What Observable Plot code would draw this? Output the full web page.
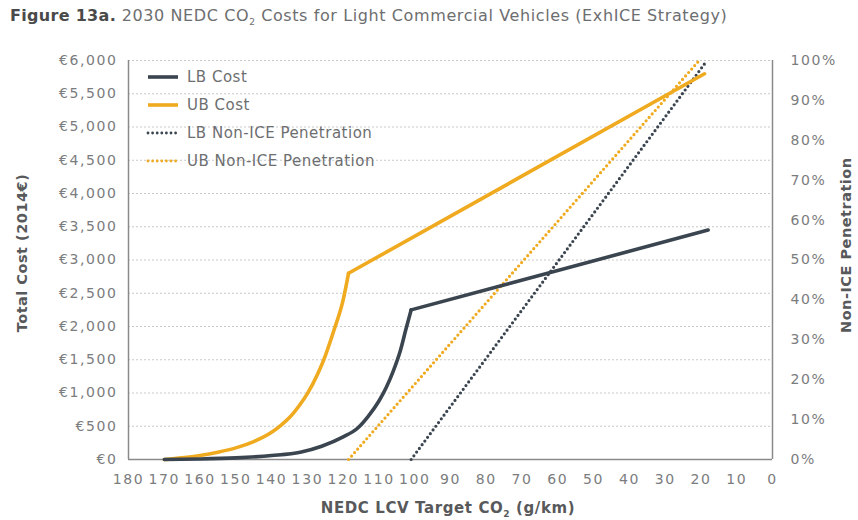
<!DOCTYPE html>
<html>
<head>
<meta charset="utf-8">
<script src="https://cdn.jsdelivr.net/npm/d3@7"></script>
<script src="https://cdn.jsdelivr.net/npm/@observablehq/plot@0.6"></script>
<style>
  body { margin: 0; background: #fff; font-family: "DejaVu Sans", sans-serif; }
  #wrap { position: relative; width: 858px; height: 520px; overflow: hidden; }
  #title { position: absolute; left: 10px; top: 6px; font-size: 16px; letter-spacing: 0.6px; color: #6d6e70; white-space: nowrap; }
  #title b { color: #4a4a4a; letter-spacing: 0.3px; }
  #chart { position: absolute; left: 0; top: 36px; }
  .ylab { position: absolute; font-weight: bold; font-size: 14.5px; letter-spacing: 0.5px; color: #58595b; white-space: nowrap; transform: rotate(-90deg); transform-origin: center; text-align: center; }
  #xlab { position: absolute; left: 0; width: 896px; top: 499px; text-align: center; font-weight: bold; font-size: 15px; letter-spacing: 0.6px; color: #58595b; }
  #legend { position: absolute; left: 146px; top: 63px; font-size: 15px; color: #6d6e70; letter-spacing: 0.5px; }
  .row { display: flex; align-items: center; height: 28px; }
  .row svg { margin-right: 7px; }
</style>
</head>
<body>
<div id="wrap">
  <div id="title"><b>Figure 13a.</b> 2030 NEDC CO<sub style="font-size:9px">2</sub> Costs for Light Commercial Vehicles (ExhICE Strategy)</div>
  <div id="chart"></div>
  <div class="ylab" style="left:-58px; top:245px; width:160px;">Total Cost (2014€)</div>
  <div class="ylab" style="left:766px; top:245px; width:160px;">Non-ICE Penetration</div>
  <div id="xlab">NEDC LCV Target CO<sub style="font-size:9px">2</sub> (g/km)</div>
  <div id="legend"></div>
</div>
<script>
// ---- data ----
const xTicks = [180,170,160,150,140,130,120,110,100,90,80,70,60,50,40,30,20,10,0];
const costTicks = [0,500,1000,1500,2000,2500,3000,3500,4000,4500,5000,5500,6000];
const pctTicks = [0,10,20,30,40,50,60,70,80,90,100];

const lbCostCO2 = [170,160,150,140,132,126,120,116,113,110,108,106,104,102.5,101,18];
const lbCostVal = [0,8,25,60,110,200,340,470,650,880,1080,1330,1640,1950,2250,3450];
const lbKnee = 101;

const ubCostCO2 = [170,165,160,155,150,145,140,137.5,135,132,130,127,125,122.6,120,118.5,19];
const ubCostVal = [0,25,60,110,175,270,410,510,630,830,990,1300,1560,1940,2400,2800,5800];
const ubKnee = 118.5;

const lbPenCO2 = [101,18.3];
const lbPenPct = [0,100];
const ubPenCO2 = [118.5,20.5];
const ubPenPct = [0,100];

const series = [
  {name:"LB Cost", color:"#3b4550", dotted:false},
  {name:"UB Cost", color:"#efaa1f", dotted:false},
  {name:"LB Non-ICE Penetration", color:"#3b4550", dotted:true},
  {name:"UB Non-ICE Penetration", color:"#efaa1f", dotted:true}
];

// ---- build tables ----
const lbCost = lbCostCO2.map((x,i)=>({x, y: lbCostVal[i]}));
const ubCost = ubCostCO2.map((x,i)=>({x, y: ubCostVal[i]}));
const pctToCost = 6000/100;
const lbPen = lbPenCO2.map((x,i)=>({x, y: lbPenPct[i]*pctToCost}));
const ubPen = ubPenCO2.map((x,i)=>({x, y: ubPenPct[i]*pctToCost}));

const axisColor = "#8a8a8a";
const solidW = 3.6;
const dotStyle = {strokeWidth: 3.2, strokeDasharray: "0,4.6", strokeLinecap: "round"};

const chart = Plot.plot({
  width: 858, height: 484,
  marginTop: 24, marginBottom: 61, marginLeft: 128, marginRight: 86,
  style: {fontFamily: "DejaVu Sans, sans-serif", fontSize: "14px", color: "#7b7c7e", letterSpacing: "1.6px", background: "transparent"},
  x: {domain: [180, 0]},
  y: {domain: [0, 6000]},
  marks: [
    Plot.gridY(costTicks.slice(1), {stroke: "#c8c8c8", strokeOpacity: 1, strokeDasharray: "2,2"}),
    Plot.axisY(costTicks, {anchor: "left", tickSize: 0, tickPadding: 11, label: null,
      tickFormat: d => "€" + d3.format(",")(d), fill: "#7b7c7e"}),
    Plot.axisY(pctTicks.map(p => p*pctToCost), {anchor: "right", tickSize: 0, tickPadding: 18, label: null,
      tickFormat: d => Math.round(d/pctToCost) + "%", fill: "#7b7c7e"}),
    Plot.axisX(xTicks, {anchor: "bottom", tickSize: 0, tickPadding: 15, label: null, fill: "#7b7c7e"}),
    Plot.ruleX([180, 0], {stroke: axisColor, strokeWidth: 1.5}),
    Plot.ruleY([0], {stroke: axisColor, strokeWidth: 1.5}),
    // penetration (dotted)
    Plot.line(ubPen, {x: "x", y: "y", stroke: series[3].color, ...dotStyle}),
    Plot.line(lbPen, {x: "x", y: "y", stroke: series[2].color, ...dotStyle}),
    // costs: curved part and straight part
    Plot.line(ubCost.filter(d => d.x >= ubKnee), {x: "x", y: "y", stroke: series[1].color, strokeWidth: solidW, curve: "monotone-x", strokeLinecap: "round"}),
    Plot.line(ubCost.filter(d => d.x <= ubKnee), {x: "x", y: "y", stroke: series[1].color, strokeWidth: solidW, strokeLinecap: "round"}),
    Plot.line(lbCost.filter(d => d.x >= lbKnee), {x: "x", y: "y", stroke: series[0].color, strokeWidth: solidW, curve: "monotone-x", strokeLinecap: "round"}),
    Plot.line(lbCost.filter(d => d.x <= lbKnee), {x: "x", y: "y", stroke: series[0].color, strokeWidth: solidW, strokeLinecap: "round"})
  ]
});
document.getElementById("chart").appendChild(chart);

// legend
const leg = document.getElementById("legend");
for (const s of series) {
  const row = document.createElement("div");
  row.className = "row";
  const dash = s.dotted ? 'stroke-dasharray="0,4.6" stroke-linecap="round" stroke-width="2.8"' : 'stroke-width="3.6"';
  row.innerHTML = `<svg width="34" height="8"><line x1="2" y1="4" x2="32" y2="4" stroke="${s.color}" ${dash}/></svg><span>${s.name}</span>`;
  leg.appendChild(row);
}
</script>
</body>
</html>
